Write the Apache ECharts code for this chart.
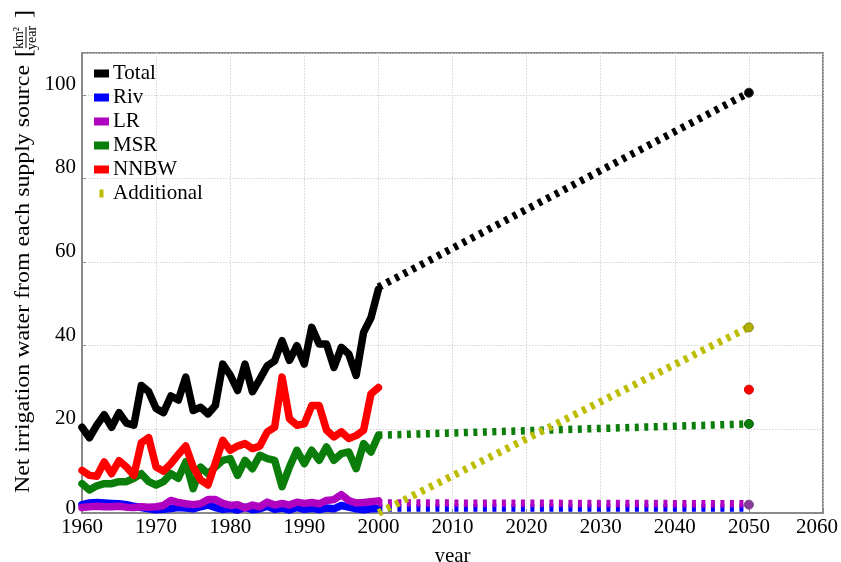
<!DOCTYPE html>
<html>
<head>
<meta charset="utf-8">
<script src="https://cdn.jsdelivr.net/npm/echarts@6/dist/echarts.min.js"></script>
<style>
html,body{margin:0;padding:0;background:#fff;}
#chart{width:841px;height:562px;}
</style>
</head>
<body>
<div id="chart"></div>
<script>
// ---- data ----
const years = [1960,1961,1962,1963,1964,1965,1966,1967,1968,1969,
               1970,1971,1972,1973,1974,1975,1976,1977,1978,1979,
               1980,1981,1982,1983,1984,1985,1986,1987,1988,1989,
               1990,1991,1992,1993,1994,1995,1996,1997,1998,1999,2000];
const total = [20.5,18,21,23.5,20.5,24,21.5,21,30.5,29,
               25,24,28,27,32.5,24.5,25.3,23.7,25.7,35.6,
               33,29.3,35.6,29,32,35.2,36.4,41.2,36.5,40,
               35.6,44.4,40.4,40.4,34.8,39.6,38,32.9,43.2,46.7,53.5];
const riv = [2.0,2.4,2.5,2.4,2.3,2.2,2.0,1.6,1.3,1.0,
             0.8,0.9,1.1,1.3,1.2,1.0,1.5,1.9,1.3,0.9,
             1.1,0.7,1.4,0.8,1.0,1.6,0.9,1.2,0.7,1.3,
             0.9,1.1,0.8,1.2,1.0,1.8,1.4,1.0,0.8,1.0,1.1];
const lr = [1.3,1.5,1.6,1.5,1.5,1.6,1.4,1.3,1.5,1.4,
            1.5,1.8,3.0,2.5,2.2,2.0,2.2,3.2,3.2,2.3,
            1.8,2.0,1.2,1.9,1.5,2.6,1.9,2.3,1.9,2.6,
            2.3,2.5,2.2,3.0,3.2,4.4,3.0,2.4,2.5,2.7,2.9];
const msr = [7,5.5,6.5,7,7,7.5,7.5,8.3,9.4,7.5,
             6.7,7.5,9.4,8.3,12.2,5.8,11,9.4,11,12.6,
             13,9,12.6,10.6,13.8,13,12.6,6.3,11,15,
             11.8,15,12.6,15.8,12.6,14.2,14.6,10.6,16.6,14.6,18.6];
const nnbw = [10.2,9,8.8,12.2,9.4,12.5,11,9,16.8,18,
              11,10,11.8,14,16,11,7.9,6.7,12,17.4,
              15,16,16.6,15.4,16,19.4,20.5,32.5,22.5,21,
              21.3,25.7,25.7,19.8,18.2,19.4,17.8,18.5,19.8,28.5,30];
// projections 2000 -> 2050
const projYears = [2000, 2050];
const projTotal = [54, 100.5];
const projRiv = [1.2, 1.2];
const projLR = [2.4, 2.2];
const projMSR = [18.6, 21.3];
const projAdditional = [0, 44.4];
// markers at 2050
const endYear = 2050;
const endTotal = 100.5;
const endLR = 2.0;
const endMSR = 21.3;
const endNNBW = 29.5;
const endAdditional = 44.4;
const seriesNames = ['Total','Riv','LR','MSR','NNBW','Additional'];
const xTicks = {min:1960, max:2060, interval:10};
const yTicks = {min:0, max:110, interval:20};

// ---- helpers ----
const colors = {Total:'#000000', Riv:'#0000ff', LR:'#b000c0', MSR:'#0a7d0a', NNBW:'#ff0000', Additional:'#bdbd00'};
const FONT = '"Liberation Serif", "Times New Roman", serif';
const pairs = (xs, ys) => xs.map((x, i) => [x, ys[i]]);
const LW = 7.5;
const dash = [4, 5.5];

function hist(name, ys) {
  return {type:'line', name, data: pairs(years, ys), showSymbol:false, symbol:'none',
    lineStyle:{color:colors[name], width:LW, join:'round', cap:'round'}, itemStyle:{color:colors[name]},
    silent:true, animation:false, emphasis:{disabled:true}};
}
function proj(name, ys) {
  return {type:'line', name, data: pairs(projYears, ys), showSymbol:false, symbol:'none',
    lineStyle:{color:colors[name], width:LW, type:dash, cap:'butt'}, itemStyle:{color:colors[name]},
    silent:true, animation:false, emphasis:{disabled:true}};
}
function endPt(name, y, fill, border) {
  return {type:'scatter', name, data:[[endYear, y]], symbol:'circle', symbolSize:9,
    itemStyle:{color:fill, borderColor:border, borderWidth:1, opacity:1},
    silent:true, animation:false, z:5, emphasis:{disabled:true}};
}

// y-axis title size fitting
const titleFont = '21px "Liberation Serif"';
const mainTitle = 'Net irrigation water from each supply source';
const ctx = document.createElement('canvas').getContext('2d');
ctx.font = titleFont;
const tw = ctx.measureText(mainTitle).width || 380;
const sx = 428 / tw;

const labelBase = {fontFamily:FONT, fontSize:21, color:'#000'};

const chart = echarts.init(document.getElementById('chart'));
chart.setOption({
  animation:false,
  backgroundColor:'#fff',
  grid:{left:82, right:18, top:53, bottom:49, show:true, borderColor:'#8a8a8a', borderWidth:2,
        backgroundColor:'transparent', containLabel:false, outerBoundsMode:'none'},
  legend:{
    orient:'vertical', left:89, top:58, itemWidth:15, itemHeight:8, itemGap:3,
    symbolKeepAspect:true,
    textStyle:{fontFamily:FONT, fontSize:21, color:'#000', padding:[0,0,0,-1]},
    itemStyle:{borderWidth:0},
    selectedMode:false,
    data:[
      {name:'Total', icon:'rect'},
      {name:'Riv', icon:'rect'},
      {name:'LR', icon:'rect'},
      {name:'MSR', icon:'rect'},
      {name:'NNBW', icon:'rect'},
      {name:'Additional', icon:'path://M0,0h4v8h-4z'}
    ]
  },
  xAxis:{
    type:'value', min:xTicks.min, max:xTicks.max, interval:xTicks.interval,
    name:'year', nameLocation:'middle', nameGap:33,
    nameTextStyle:{fontFamily:FONT, fontSize:21, color:'#000'},
    axisLine:{show:true, onZero:false, lineStyle:{color:'#8a8a8a', width:2}},
    axisTick:{show:true, inside:true, length:4, lineStyle:{color:'#8a8a8a'}},
    axisLabel:{fontFamily:FONT, fontSize:21, color:'#000', margin:4,
      formatter:v => v === xTicks.max ? '{r|' + v + '}' : String(v),
      rich:{r:Object.assign({padding:[0,12,0,0]}, labelBase)}},
    splitLine:{show:true, lineStyle:{color:'#d4d4d4', width:1, type:[1.5,1.5]}}
  },
  yAxis:{
    type:'value', min:yTicks.min, max:yTicks.max, interval:yTicks.interval,
    axisLine:{show:true, lineStyle:{color:'#8a8a8a', width:2}},
    axisTick:{show:true, inside:true, length:4, lineStyle:{color:'#8a8a8a'}},
    axisLabel:{fontFamily:FONT, fontSize:21, color:'#000', margin:6, showMaxLabel:false,
      verticalAlign:'bottom',
      formatter:v => v === yTicks.min ? '{z|' + v + '}' : String(v),
      rich:{z:Object.assign({lineHeight:10}, labelBase)}},
    splitLine:{show:true, lineStyle:{color:'#d4d4d4', width:1, type:[1.5,1.5]}}
  },
  graphic:[{
    type:'group', x:26, y:270, rotation:Math.PI/2, silent:true,
    children:[
      {type:'text', x:-223, y:-3, scaleX:sx, style:{text:mainTitle, font:titleFont, fill:'#000', align:'left', verticalAlign:'middle'}},
      {type:'text', x:217, y:-1, style:{text:'[', font:'24px "Liberation Serif"', fill:'#000', align:'center', verticalAlign:'middle'}},
      {type:'text', x:232, y:-7, style:{text:'km²', font:'14px "Liberation Serif"', fill:'#000', align:'center', verticalAlign:'middle'}},
      {type:'line', shape:{x1:222, y1:0, x2:243, y2:0}, style:{stroke:'#000', lineWidth:1}},
      {type:'text', x:232, y:6, style:{text:'year', font:'14px "Liberation Serif"', fill:'#000', align:'center', verticalAlign:'middle'}},
      {type:'text', x:256, y:-1, style:{text:']', font:'24px "Liberation Serif"', fill:'#000', align:'center', verticalAlign:'middle'}}
    ]
  }],
  series:[
    hist('Total', total),
    hist('Riv', riv),
    hist('LR', lr),
    hist('MSR', msr),
    hist('NNBW', nnbw),
    proj('Total', projTotal),
    proj('Riv', projRiv),
    proj('LR', projLR),
    proj('MSR', projMSR),
    proj('Additional', projAdditional),
    endPt('Total', endTotal, '#000', '#333'),
    endPt('LR', endLR, '#8a3a9a', '#6a4a7a'),
    endPt('MSR', endMSR, '#0a7d0a', '#0a5a0a'),
    endPt('NNBW', endNNBW, '#ff0000', '#d00000'),
    endPt('Additional', endAdditional, '#b0b000', '#8a8a20')
  ]
});
</script>
</body>
</html>
